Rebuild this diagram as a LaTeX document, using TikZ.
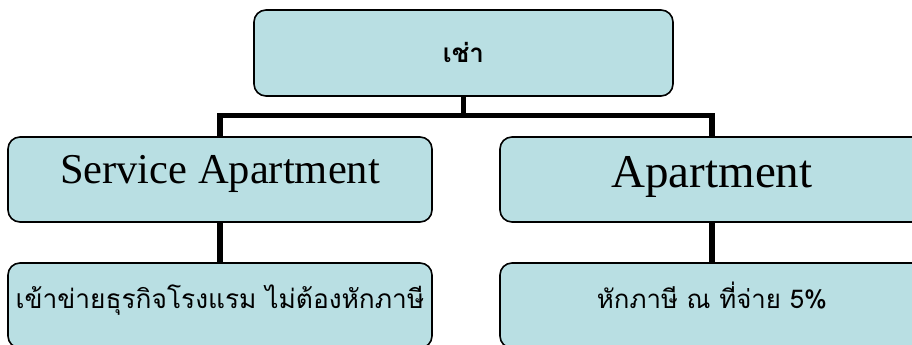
\documentclass[tikz,border=0pt]{standalone}
\usepackage{fontspec}
\setmainfont{Liberation Serif}
\newfontfamily\thai[Script=Thai]{Loma}
\definecolor{boxfill}{RGB}{185,223,227}
\tikzset{
  box/.style={draw=black, line width=1.6pt, fill=boxfill, rounded corners=12pt,
    rectangle, inner sep=0pt, minimum width=424pt, minimum height=85pt, align=center},
  conn/.style={draw=black, line width=5.5pt, line join=miter, line cap=butt},
}
\begin{document}
\begin{tikzpicture}[x=1pt,y=-1pt]
\clip (0,0) rectangle (912,345);
\fill[white] (0,0) rectangle (912,345);
\node[box, minimum width=419pt, minimum height=86pt, text height=53pt, text depth=33pt] (top) at (463.5,53) {\thai\bfseries\fontsize{26}{30}\selectfont เช่า};
\node[box, text height=46pt, text depth=39pt] (sa) at (220,179.5) {\fontsize{42.5}{48}\selectfont Service Apartment};
\node[box, text height=50pt, text depth=35pt] (ap) at (712,179.5) {\fontsize{47}{52}\selectfont Apartment};
\node[box, text height=45pt, text depth=40pt] (sab) at (220,305.5) {\thai\fontsize{26.3}{30}\selectfont เข้าข่ายธุรกิจโรงแรม ไม่ต้องหักภาษี};
\node[box, text height=45pt, text depth=40pt] (apb) at (712,305.5) {\thai\fontsize{25.8}{30}\selectfont หักภาษี ณ ที่จ่าย 5\%};
\coordinate (bar) at (463.5,115.5);
\draw[conn] (top.south) -- (top.south |- bar);
\draw[conn] (sa.north) -- (sa.north |- bar) -- (ap.north |- bar) -- (ap.north);
\draw[conn] (sa.south) -- (sab.north);
\draw[conn] (ap.south) -- (apb.north);
\end{tikzpicture}
\end{document}
